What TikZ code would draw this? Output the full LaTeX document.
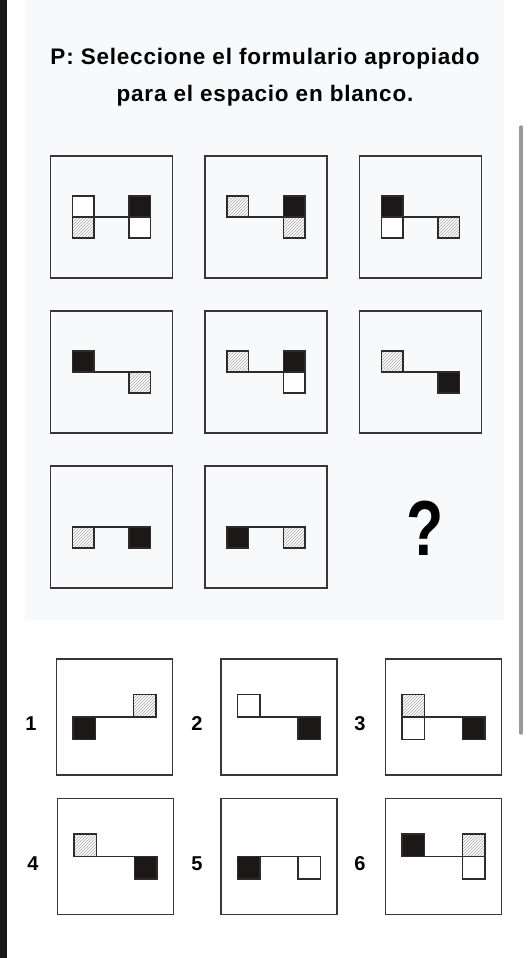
\documentclass[tikz,border=0pt]{standalone}
\usepackage{fontspec}
\setmainfont{Liberation Sans}
\usepackage{tikz}
\usetikzlibrary{patterns}

\definecolor{panelgray}{HTML}{F8F9FA}
\definecolor{framegray}{HTML}{3A3636}
\definecolor{inkblack}{HTML}{1C1817}
\definecolor{edgegray}{HTML}{2E2B2B}

% cell geometry: inner offset, outer offset, square size
\newcommand{\setcells}[3]{\def\ci{#1}\def\co{#2}\def\cs{#3}}
\newcommand{\LU}[1]{\draw[#1] (-\co,-\cs) rectangle (-\ci,0);}
\newcommand{\LD}[1]{\draw[#1] (-\co,0) rectangle (-\ci,\cs);}
\newcommand{\RU}[1]{\draw[#1] (\ci,-\cs) rectangle (\co,0);}
\newcommand{\RD}[1]{\draw[#1] (\ci,0) rectangle (\co,\cs);}
% one framed tile: name, centre, size, cells
\newcommand{\tile}[4]{%
  \node[frame, minimum size=#3] (#1) at (#2) {};
  \begin{scope}[shift={(#1.center)}]
    \draw[link] (-\ci,0) -- (\ci,0);
    #4
  \end{scope}}

\tikzset{
  frame/.style={draw=framegray, line width=1.8pt, inner sep=0pt},
  link/.style={draw=edgegray, line width=1.2pt},
  wht/.style={draw=edgegray, line width=1.5pt, fill=white},
  blk/.style={draw=edgegray, line width=1.5pt, fill=inkblack},
  hat/.style={draw=edgegray, line width=1.5pt, preaction={fill=white},
    pattern=north east lines, pattern color=gray!70},
  titlefont/.style={font=\fontsize{22.5}{26}\selectfont\bfseries\addfontfeature{LetterSpace=3.5}, anchor=base},
  numfont/.style={font=\fontsize{20}{24}\selectfont\bfseries, anchor=base},
}

\begin{document}
\begin{tikzpicture}[x=1pt, y=-1pt]
\useasboundingbox (0,0) rectangle (528,958);
\fill[white] (0,0) rectangle (528,958);

% screen edges
\fill[black!90] (0,0) rectangle (7,958);
\fill[panelgray] (25,0) rectangle (504,620);
\draw[gray!80, line width=3.5pt, line cap=round] (521,127) -- (521,733);

% question
\node[titlefont] (t1) at (265,64) {P: Seleccione el formulario apropiado};
\node[titlefont] (t2) at (265,101) {para el espacio en blanco.};

% puzzle grid
\setcells{17.5}{39}{21}
\tile{g11}{111.5,217}{122}{\LU{wht}\LD{hat}\RU{blk}\RD{wht}}
\tile{g12}{266,217}{122}{\LU{hat}\RU{blk}\RD{hat}}
\tile{g13}{420.5,217}{122}{\LU{blk}\LD{wht}\RD{hat}}
\tile{g21}{111.5,372}{122}{\LU{blk}\RD{hat}}
\tile{g22}{266,372}{122}{\LU{hat}\RU{blk}\RD{wht}}
\tile{g23}{420.5,372}{122}{\LU{hat}\RD{blk}}
\tile{g31}{111.5,527}{122}{\LD{hat}\RD{blk}}
\tile{g32}{266,527}{122}{\LD{blk}\RD{hat}}
\node[font=\fontsize{78}{78}\selectfont\bfseries, anchor=base, xscale=0.78] (qm) at (425,555) {?};

% answer choices
\setcells{19}{41.5}{22.5}
\tile{a1}{114.5,717}{116}{\LD{blk}\RU{hat}}
\tile{a2}{279,717}{116}{\LU{wht}\RD{blk}}
\tile{a3}{443.5,717}{116}{\LU{hat}\LD{wht}\RD{blk}}
\tile{a4}{115.5,856.5}{116}{\LU{hat}\RD{blk}}
\tile{a5}{279,856.5}{116}{\LD{blk}\RD{wht}}
\tile{a6}{443.5,856.5}{116}{\LU{blk}\RU{hat}\RD{wht}}
\node[numfont] (n1) at (31,730) {1};
\node[numfont] (n2) at (197,730) {2};
\node[numfont] (n3) at (360,730) {3};
\node[numfont] (n4) at (33,870) {4};
\node[numfont] (n5) at (197,870) {5};
\node[numfont] (n6) at (360,870) {6};
\end{tikzpicture}
\end{document}
